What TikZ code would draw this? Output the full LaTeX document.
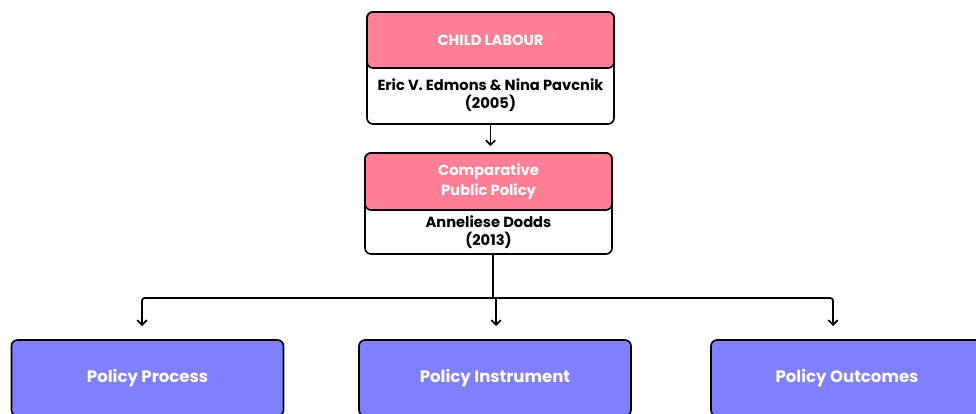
\documentclass[tikz,border=0pt]{standalone}
\usepackage{fontspec}
\setmainfont{Poppins}[BoldFont={Poppins Bold}]
\usetikzlibrary{arrows.meta,positioning}
\definecolor{headpink}{RGB}{255,128,150}
\definecolor{leafblue}{RGB}{128,128,255}
\tikzset{
        card/.style = {draw, rectangle, rounded corners=4.5pt, line width=1.2pt,
            fill=white, minimum width=185.25pt},
        head/.style = {draw, rectangle, rounded corners=4.5pt, line width=1.2pt,
            fill=headpink, text=white, minimum width=185.25pt, minimum height=42pt,
            align=center, font=\bfseries\fontsize{11}{15}\selectfont},
        bodytext/.style = {align=center, inner sep=0pt,
            font=\bfseries\fontsize{11}{13.5}\selectfont},
        leaf/.style = {draw, rectangle, rounded corners=4.5pt, line width=1.2pt,
            fill=leafblue, text=white, minimum width=204pt, minimum height=57pt,
            font=\bfseries\fontsize{12.4}{14}\selectfont},
        line/.style = {draw, line width=1.3pt},
        arrow/.style = {draw, line width=1.3pt, rounded corners=2pt,
            -{Straight Barb[length=3.5pt,width=7pt]}},
    }

\begin{document}
\begin{tikzpicture}[x=0.75pt,y=0.75pt,yscale=-1,xscale=1]
\useasboundingbox (0,0) rectangle (976,414);

% first card
\node [card, minimum height=84pt] (cl) at (490.5,68) {};
\node [head] (clhead) at (490.5,40) {CHILD LABOUR};
\node [bodytext] (clbody) at (490.5,95) {Eric V. Edmons \& Nina Pavcnik\\(2005)};

% second card
\node [card, minimum height=75.75pt] (cpp) at (488.5,203.5) {};
\node [head, minimum height=42.75pt] (cpphead) at (488.5,181.5) {Comparative\\Public Policy};
\node [bodytext] (cppbody) at (488.5,232) {Anneliese Dodds\\(2013)};

% leaves
\node [leaf] (proc) at (147.5,378) {Policy Process};
\node [leaf] (instr) at (495,378) {Policy Instrument};
\node [leaf] (outc) at (847,378) {Policy Outcomes};

% connectors
\coordinate (split) at (493,298);
\coordinate (pin1) at (142,326);
\coordinate (pin2) at (496,326);
\coordinate (pin3) at (833,326);

\draw [arrow] (cl.south) -- ([yshift=-4.5pt]cl.south |- cpphead.north);
\draw [line] (cpp.south -| split) -- (split);
\draw [arrow] (split) -| (pin1);
\draw [arrow] (split) -| (pin3);
\draw [arrow] (split -| pin2) -- (pin2);

\end{tikzpicture}
\end{document}
